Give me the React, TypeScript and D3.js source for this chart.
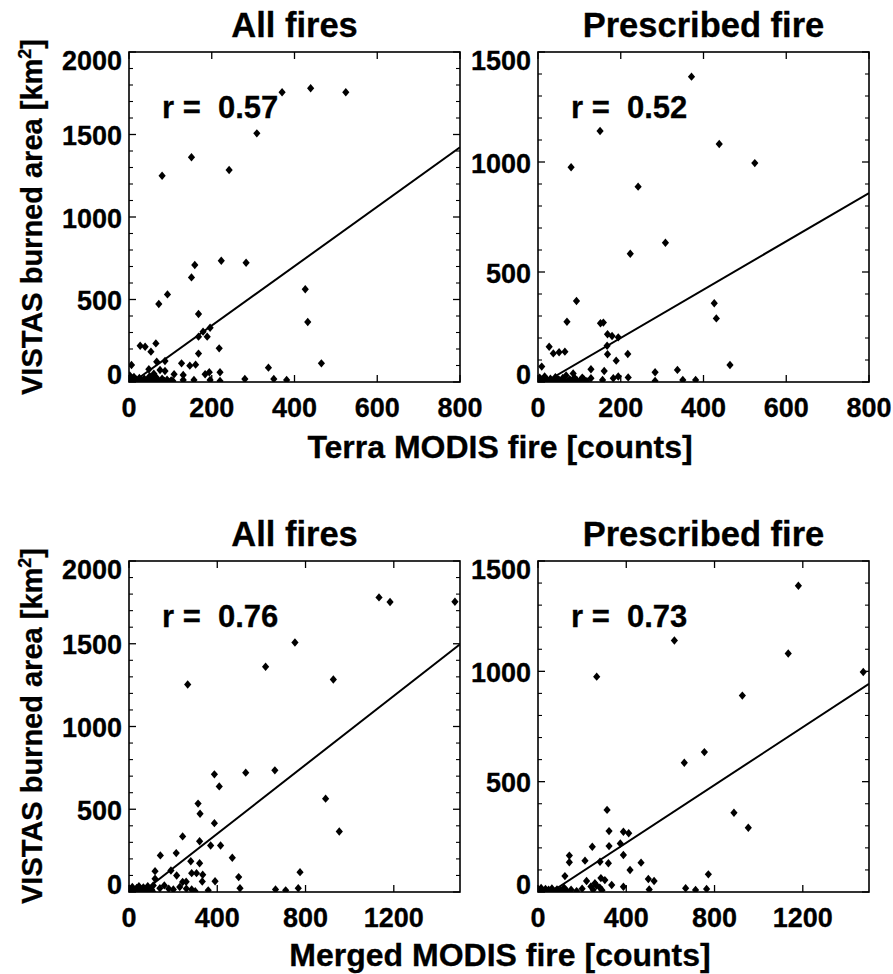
import React from "react";
import * as d3 from "d3";

// ---------- data (x = MODIS fire counts, y = VISTAS burned area km2) ----------
const terraAll: [number, number][] = [
  [370, 1756], [439, 1780], [524, 1756], [309, 1507], [151, 1362], [80, 1250], [242, 1285],
  [223, 735], [283, 723], [159, 709], [151, 634], [93, 531], [72, 473], [426, 562], [432, 364],
  [465, 113], [168, 412], [179, 305], [196, 329], [168, 275], [189, 275], [218, 204], [65, 234],
  [27, 220], [39, 214], [53, 184], [168, 172], [6, 103], [67, 123], [87, 127], [127, 113],
  [147, 99], [161, 105], [75, 73], [87, 67], [109, 47], [131, 42], [184, 47], [194, 59],
  [220, 59], [337, 87], [48, 77], [280, 18], [350, 18], [381, 12], [220, 6], [196, 12],
  [157, 12], [131, 12], [106, 6],
  [2, 40], [3, 12], [5, 3], [8, 22], [10, 6], [12, 30], [14, 2], [17, 15], [20, 8], [22, 1],
  [25, 25], [28, 5], [31, 12], [34, 2], [37, 20], [40, 6], [44, 15], [47, 2], [50, 35], [54, 8],
  [58, 18], [62, 3], [66, 28], [70, 10], [74, 2], [80, 20], [86, 6], [92, 14], [96, 2], [102, 10],
  [60, 50],
];

const terraRx: [number, number][] = [
  [371, 1388], [150, 1141], [438, 1082], [524, 995], [80, 976], [242, 888], [308, 633], [223, 583],
  [93, 368], [426, 358], [431, 289], [70, 274], [151, 267], [158, 270], [168, 217], [179, 209],
  [194, 203], [167, 165], [27, 160], [37, 130], [51, 135], [65, 138], [217, 127], [168, 126],
  [189, 97], [9, 70], [464, 77], [128, 58], [337, 55], [160, 50], [283, 44], [218, 21], [85, 39],
  [194, 25], [107, 20], [128, 17], [350, 9], [381, 9], [283, 5], [156, 9], [182, 17],
  [2, 5], [4, 20], [7, 2], [10, 12], [13, 4], [16, 25], [19, 1], [22, 10], [26, 3], [30, 15],
  [34, 1], [38, 8], [42, 22], [46, 3], [50, 12], [55, 2], [60, 18], [64, 6], [68, 30], [72, 2],
  [77, 12], [82, 4], [88, 20], [94, 8], [100, 2], [110, 14], [118, 4],
];

const mergedAll: [number, number][] = [
  [1133, 1780], [1183, 1752], [1477, 1754], [752, 1508], [619, 1361], [926, 1284], [266, 1254],
  [661, 735], [529, 721], [387, 711], [409, 638], [891, 564], [313, 534], [322, 473], [387, 416],
  [953, 366], [243, 336], [320, 307], [370, 281], [415, 281], [142, 221], [214, 235], [468, 207],
  [280, 186], [320, 174], [775, 120], [118, 126], [190, 130], [284, 114], [306, 114], [334, 104],
  [390, 65], [497, 90], [118, 80], [216, 100], [243, 60], [259, 62], [503, 23], [332, 63],
  [664, 15], [710, 10], [767, 23], [359, 10], [284, 15], [201, 15], [140, 23],
  [3, 20], [8, 5], [15, 30], [20, 10], [28, 2], [35, 25], [42, 8], [50, 18], [58, 3], [65, 28],
  [72, 10], [80, 2], [88, 20], [95, 6], [102, 15], [108, 2], [5, 2], [45, 35], [85, 35], [110, 40],
  [160, 40], [180, 20], [230, 30], [260, 20], [300, 5],
];

const mergedRx: [number, number][] = [
  [1180, 1388], [618, 1140], [1134, 1081], [1474, 997], [266, 976], [926, 890], [754, 634],
  [663, 586], [313, 372], [888, 359], [953, 291], [322, 276], [387, 273], [411, 266], [322, 208],
  [373, 220], [246, 205], [387, 168], [142, 165], [142, 135], [213, 142], [281, 137], [319, 130],
  [467, 133], [417, 100], [772, 80], [122, 72], [500, 59], [526, 50], [285, 63], [303, 54],
  [334, 32], [387, 24], [220, 50], [258, 40], [669, 17], [714, 9], [764, 14], [504, 11],
  [3, 10], [8, 3], [14, 18], [20, 6], [27, 2], [34, 14], [41, 4], [48, 10], [56, 2], [63, 16],
  [70, 5], [78, 2], [86, 12], [94, 4], [102, 8], [110, 2], [118, 20], [130, 6], [150, 10],
  [175, 4], [200, 15], [240, 25], [250, 10], [265, 30], [280, 20], [290, 8],
];

// linear fits [slope, intercept]
const fitTerraAll = [1.8, -18];
const fitTerraRx = [1.097, -19];
const fitMergedAll = [1.041, -64];
const fitMergedRx = [0.655, -39];

const rValues = ["0.57", "0.52", "0.76", "0.73"];
const panelTitles = ["All fires", "Prescribed fire", "All fires", "Prescribed fire"];
const terraXTicks = [0, 200, 400, 600, 800];
const mergedXTicks = [0, 400, 800, 1200];
const allYTicks = [0, 500, 1000, 1500, 2000];
const rxYTicks = [0, 500, 1000, 1500];
const xAxisTitles = ["Terra MODIS fire [counts]", "Merged MODIS fire [counts]"];

const FONT = "'Liberation Sans', Arial, Helvetica, sans-serif";

type PanelCfg = {
  id: string;
  left: number; right: number; top: number; bottom: number;
  xMax: number; yMax: number;
  xTicks: number[]; yTicks: number[];
  data: [number, number][];
  fit: number[];
  title: string; r: string;
};

const panels: PanelCfg[] = [
  { id: "p1", left: 129, right: 460, top: 52, bottom: 382, xMax: 800, yMax: 2000, xTicks: terraXTicks, yTicks: allYTicks, data: terraAll, fit: fitTerraAll, title: panelTitles[0], r: rValues[0] },
  { id: "p2", left: 538, right: 869, top: 52, bottom: 382, xMax: 800, yMax: 1500, xTicks: terraXTicks, yTicks: rxYTicks, data: terraRx, fit: fitTerraRx, title: panelTitles[1], r: rValues[1] },
  { id: "p3", left: 129, right: 460, top: 561, bottom: 892, xMax: 1500, yMax: 2000, xTicks: mergedXTicks, yTicks: allYTicks, data: mergedAll, fit: fitMergedAll, title: panelTitles[2], r: rValues[2] },
  { id: "p4", left: 538, right: 869, top: 561, bottom: 892, xMax: 1500, yMax: 1500, xTicks: mergedXTicks, yTicks: rxYTicks, data: mergedRx, fit: fitMergedRx, title: panelTitles[3], r: rValues[3] },
];

const diamond = "M0,-4.2L3.6,0L0,4.2L-3.6,0Z";

function Panel({ p }: { p: PanelCfg }) {
  const x = d3.scaleLinear().domain([0, p.xMax]).range([p.left, p.right]);
  const y = d3.scaleLinear().domain([0, p.yMax]).range([p.bottom, p.top]);
  const minor = d3.range(0, p.yMax + 1, 100).filter((v) => v % 500 !== 0);
  const [m, b] = p.fit;
  const xStart = Math.max(0, -b / m);
  const line = d3.line<number>().x((v) => x(v)).y((v) => y(m * v + b));
  const clipId = "clip-" + p.id;
  return (
    <g>
      <defs>
        <clipPath id={clipId}>
          <rect x={p.left} y={p.top} width={p.right - p.left} height={p.bottom - p.top} />
        </clipPath>
      </defs>
      <g clipPath={`url(#${clipId})`}>
        {p.data.map((d, i) => (
          <path key={i} d={diamond} transform={`translate(${x(d[0])},${y(d[1])})`} fill="#000" />
        ))}
        <path d={line([xStart, p.xMax]) || ""} stroke="#000" strokeWidth={2} fill="none" />
      </g>
      <rect x={p.left} y={p.top} width={p.right - p.left} height={p.bottom - p.top} fill="none" stroke="#000" strokeWidth={1.6} />
      {p.xTicks.map((t) => (
        <g key={"xt" + t}>
          <line x1={x(t)} x2={x(t)} y1={p.bottom} y2={p.bottom - 7} stroke="#000" strokeWidth={1.3} />
          <line x1={x(t)} x2={x(t)} y1={p.top} y2={p.top + 7} stroke="#000" strokeWidth={1.3} />
          <text x={x(t)} y={p.bottom + 35} textAnchor="middle" fontFamily={FONT} fontWeight="bold" fontSize={27} stroke="#000" strokeWidth={0.3}>
            {t}
          </text>
        </g>
      ))}
      {p.yTicks.map((t) => {
        const off = t === 0 ? -8 : t === p.yMax ? 8 : 1;
        return (
          <g key={"yt" + t}>
            <line x1={p.left} x2={p.left + 7} y1={y(t)} y2={y(t)} stroke="#000" strokeWidth={1.3} />
            <line x1={p.right} x2={p.right - 7} y1={y(t)} y2={y(t)} stroke="#000" strokeWidth={1.3} />
            <text x={p.left - 7} y={y(t) + off} dy="0.36em" textAnchor="end" fontFamily={FONT} fontWeight="bold" fontSize={27} stroke="#000" strokeWidth={0.3}>
              {t}
            </text>
          </g>
        );
      })}
      {minor.map((t) => (
        <g key={"ym" + t}>
          <line x1={p.left} x2={p.left + 4} y1={y(t)} y2={y(t)} stroke="#000" strokeWidth={1.1} />
          <line x1={p.right} x2={p.right - 4} y1={y(t)} y2={y(t)} stroke="#000" strokeWidth={1.1} />
        </g>
      ))}
      <text x={(p.left + p.right) / 2} y={p.top - 15} textAnchor="middle" fontFamily={FONT} fontWeight="bold" fontSize={34.5} stroke="#000" strokeWidth={0.3}>
        {p.title}
      </text>
      <text x={p.left + 33} y={p.top + 66} fontFamily={FONT} fontWeight="bold" fontSize={31} stroke="#000" strokeWidth={0.3} style={{ whiteSpace: "pre" }}>
        {"r =  " + p.r}
      </text>
    </g>
  );
}

function YTitle({ cy }: { cy: number }) {
  return (
    <text transform={`translate(42,${cy}) rotate(-90)`} textAnchor="middle" fontFamily={FONT} fontWeight="bold" fontSize={29} stroke="#000" strokeWidth={0.3}>
      VISTAS burned area [km
      <tspan dy={-11} fontSize={18}>2</tspan>
      <tspan dy={11}>]</tspan>
    </text>
  );
}

export default function App() {
  return (
    <svg width={893} height={974} style={{ position: "absolute", left: 0, top: 0, background: "#fff" }}>
      <rect x={0} y={0} width={893} height={974} fill="#fff" />
      {panels.map((p) => (
        <Panel key={p.id} p={p} />
      ))}
      <YTitle cy={217} />
      <YTitle cy={726} />
      <text x={500} y={458} textAnchor="middle" fontFamily={FONT} fontWeight="bold" fontSize={32} stroke="#000" strokeWidth={0.3}>
        {xAxisTitles[0]}
      </text>
      <text x={500} y={966} textAnchor="middle" fontFamily={FONT} fontWeight="bold" fontSize={32} stroke="#000" strokeWidth={0.3}>
        {xAxisTitles[1]}
      </text>
    </svg>
  );
}
